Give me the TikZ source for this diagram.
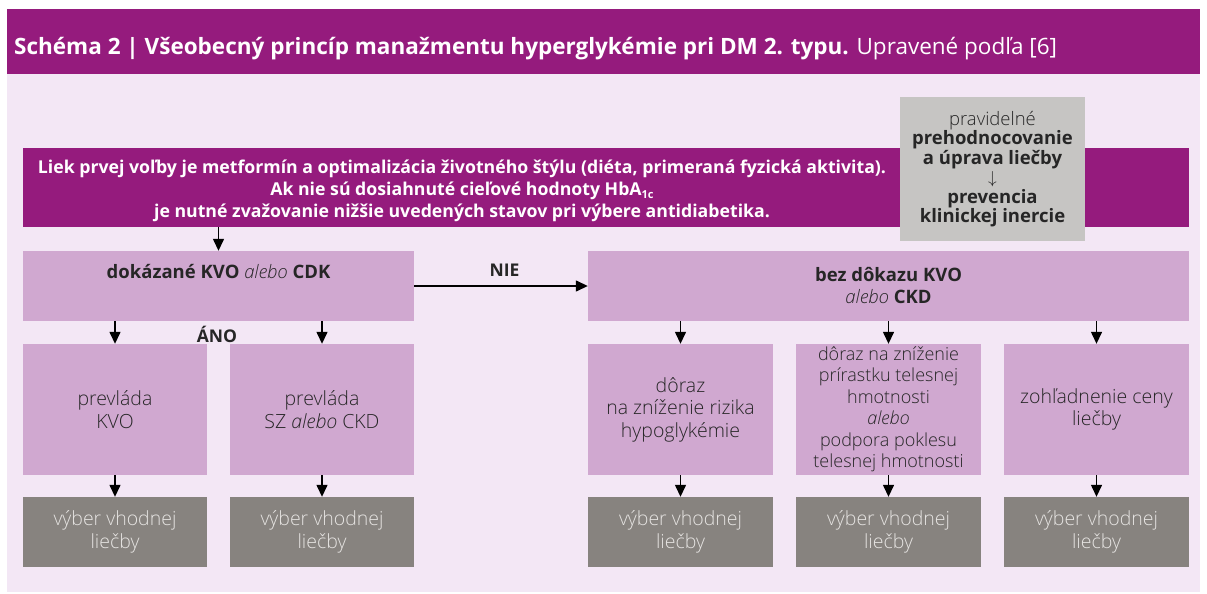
\documentclass[tikz,border=0pt]{standalone}
\usepackage{fontspec}
\setmainfont{Open Sans}
\IfFontExistsTF{Open Sans Light}{\newfontfamily\lite{Open Sans Light}}{\newfontfamily\lite{Open Sans}}
\usetikzlibrary{arrows.meta}
\definecolor{dpurple}{HTML}{951B7D}
\definecolor{lbg}{HTML}{F3E7F5}
\definecolor{mpurple}{HTML}{D0A8D0}
\definecolor{dgray}{HTML}{87837F}
\definecolor{lgray}{HTML}{C6C5C3}
\definecolor{txt}{HTML}{262626}
\definecolor{restxt}{HTML}{E6E4E2}
\begin{document}
\begin{tikzpicture}[x=1pt,y=-1pt,
  box/.style={fill=mpurple, inner sep=0pt, minimum width=185pt, minimum height=131pt, align=center, text=txt, font=\lite\fontsize{19.5}{22.5}\selectfont},
  res/.style={fill=dgray, inner sep=0pt, minimum width=185pt, minimum height=70pt, align=center, text=restxt, font=\lite\fontsize{19.5}{22.5}\selectfont},
  head/.style={fill=mpurple, inner sep=0pt, minimum height=70pt, align=center, text=txt, font=\bfseries\fontsize{18.5}{22}\selectfont},
  arr/.style={-{Triangle[width=11pt,length=12pt]}, line width=1.4pt, black},
  lbl/.style={inner sep=0pt, font=\bfseries\fontsize{17.5}{20}\selectfont, text=txt}
]
\useasboundingbox (0,0) rectangle (1207,594);
\fill[white] (0,0) rectangle (1207,594);
\fill[lbg] (7,74) rectangle (1200,592);
\fill[dpurple] (7,9) rectangle (1200,74);
\node[anchor=base west, text=white, inner sep=0pt, font=\fontsize{22.5}{26}\selectfont] (title) at (14,55)
  {\textbf{Schéma 2 | Všeobecný princíp manažmentu hyperglykémie pri DM 2. typu.} Upravené podľa [6]};

% top bar
\node[fill=dpurple, inner sep=0pt, minimum width=1166pt, minimum height=79pt] (bar) at (606,187.5) {};
\node[inner sep=0pt, align=center, text=white, font=\bfseries\fontsize{17.7}{22}\selectfont] (bartext) at (462,191)
  {Liek prvej voľby je metformín a optimalizácia životného štýlu (diéta, primeraná fyzická aktivita).\\
   Ak nie sú dosiahnuté cieľové hodnoty HbA\raisebox{-3pt}{\fontsize{11}{11}\selectfont 1c}\\
   je nutné zvažovanie nižšie uvedených stavov pri výbere antidiabetika.};

% review box
\node[fill=lgray, inner sep=0pt, minimum width=185pt, minimum height=144pt, align=center, text=txt,
      font=\bfseries\fontsize{18.5}{19.5}\selectfont] (rev) at (992.5,169)
  {{\lite\mdseries pravidelné}\\ prehodnocovanie\\ a úprava liečby\\ {\lite\mdseries$\downarrow$}\\ prevencia\\ klinickej inercie};

% decision boxes
\node[head, minimum width=391pt] (dok) at (218.5,286) {dokázané KVO {\lite\mdseries\itshape alebo} CDK\\ \strut};
\node[head, minimum width=601pt] (bez) at (888.5,286) {bez dôkazu KVO\\ {\lite\mdseries\itshape alebo} CKD};

% row 2
\node[box, minimum width=184pt] (a) at (115,409.5) {prevláda\\ KVO};
\node[box, minimum width=184pt] (b) at (322,409.5) {prevláda\\ SZ {\itshape alebo} CKD};
\node[box] (c) at (680.5,409.5) {dôraz\\ na zníženie rizika\\ hypoglykémie};
\node[box, font=\lite\fontsize{18}{21.5}\selectfont] (d) at (888.5,409.5)
  {dôraz na zníženie\\ prírastku telesnej\\ hmotnosti\\ {\itshape alebo}\\ podpora poklesu\\ telesnej hmotnosti};
\node[box] (e) at (1096.5,409.5) {zohľadnenie ceny\\ liečby};

% row 3
\node[res, minimum width=184pt] (ra) at (115,532) {výber vhodnej\\ liečby};
\node[res, minimum width=184pt] (rb) at (322,532) {výber vhodnej\\ liečby};
\node[res] (rc) at (680.5,532) {výber vhodnej\\ liečby};
\node[res] (rd) at (888.5,532) {výber vhodnej\\ liečby};
\node[res] (re) at (1096.5,532) {výber vhodnej\\ liečby};

% connectors
\draw[arr] (dok.north |- bar.south) -- (dok.north);
\draw[arr] (dok.east) -- (bez.west) node[lbl, pos=0.52, above=9pt] (nie) {NIE};
\draw[arr] (a.north |- dok.south) -- (a.north);
\draw[arr] (b.north |- dok.south) -- (b.north);
\node[lbl] (ano) at (217,334) {ÁNO};
\draw[arr] (c.north |- bez.south) -- (c.north);
\draw[arr] (d.north |- bez.south) -- (d.north);
\draw[arr] (e.north |- bez.south) -- (e.north);
\draw[arr] (a.south) -- (ra.north);
\draw[arr] (b.south) -- (rb.north);
\draw[arr] (c.south) -- (rc.north);
\draw[arr] (d.south) -- (rd.north);
\draw[arr] (e.south) -- (re.north);
\end{tikzpicture}
\end{document}
